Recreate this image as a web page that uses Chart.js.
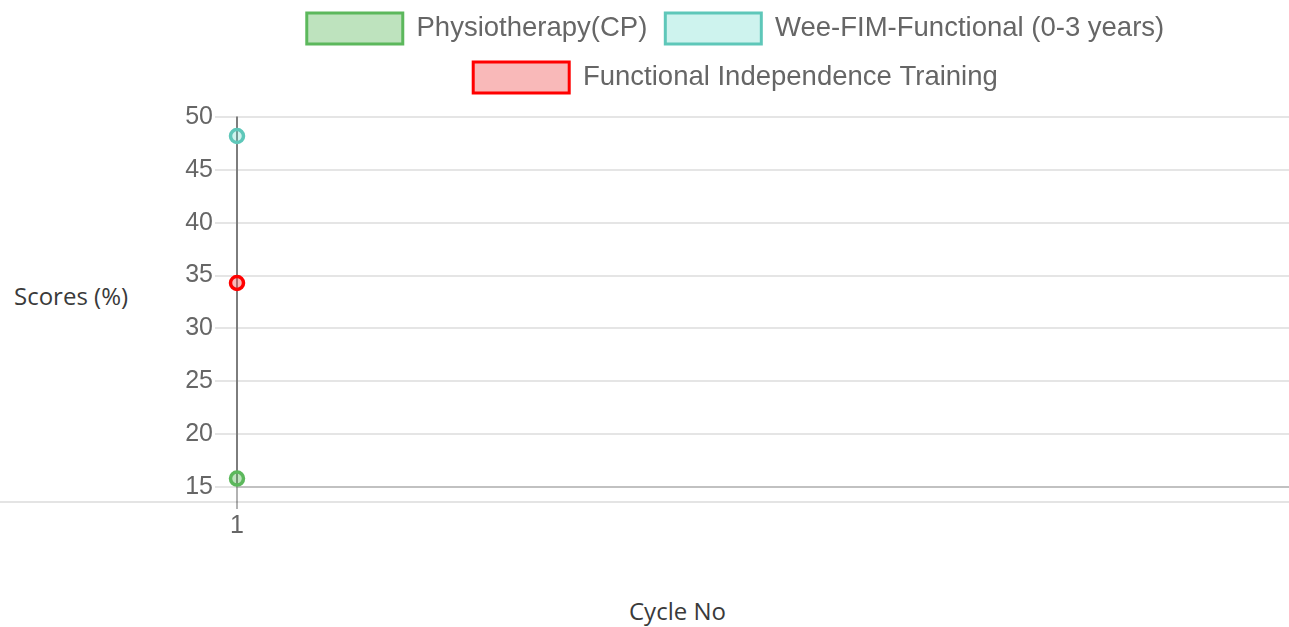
<!DOCTYPE html>
<html>
<head>
<meta charset="utf-8">
<script src="https://cdn.jsdelivr.net/npm/chart.js@4.4.0/dist/chart.umd.min.js"></script>
<style>
    html, body { margin: 0; padding: 0; background: #fff; }
    #wrap { position: relative; width: 1289px; height: 627px; overflow: hidden; }
    #baseLine { position: absolute; left: 0; top: 501px; width: 1289px; border-top: 2px solid #e4e4e4; }
    #chartBox { position: absolute; left: 172px; top: -5px; width: 1127px; height: 552px; }
    .axisTitle { position: absolute; font-family: "Open Sans", sans-serif; font-size: 24px; color: #3a3a3a; white-space: nowrap; line-height: 1; }
    #yTitle { left: 14px; top: 284px; }
    #xTitle { left: 629px; top: 599px; }
</style>
</head>
<body>
<div id="wrap">
    <div id="baseLine"></div>
    <div id="chartBox"><canvas id="cycleScoreChart"></canvas></div>
    <div class="axisTitle" id="yTitle">Scores (%)</div>
    <div class="axisTitle" id="xTitle">Cycle No</div>
</div>
<script>
const cycles = ["1"];
const physioScores = [15.8];
const weeFimScores = [48.2];
const fitScores = [34.3];

// leave a bit more room between the legend and the plot
const legendGap = {
    id: "legendGap",
    afterInit(chart) {
        const legend = chart.legend;
        const origFit = legend.fit;
        legend.fit = function () {
            origFit.call(this);
            this.height += 14;
        };
    },
};

const data = {
    labels: cycles,
    datasets: [
        {
            label: "Physiotherapy(CP)",
            data: physioScores,
            borderColor: "#5cb85c",
            backgroundColor: "rgba(92,184,92,0.4)",
            borderWidth: 3,
            pointRadius: 6.5,
            pointBorderWidth: 3.5,
        },
        {
            label: "Wee-FIM-Functional (0-3 years)",
            data: weeFimScores,
            borderColor: "#5ec7b9",
            backgroundColor: "rgba(94,215,200,0.3)",
            borderWidth: 3,
            pointRadius: 6.5,
            pointBorderWidth: 3.5,
        },
        {
            label: "Functional Independence Training",
            data: fitScores,
            borderColor: "#ff0000",
            backgroundColor: "rgba(240,80,80,0.4)",
            borderWidth: 3,
            pointRadius: 6.5,
            pointBorderWidth: 3.5,
        },
    ],
};

const config = {
    type: "line",
    data: data,
    plugins: [legendGap],
    options: {
        responsive: true,
        maintainAspectRatio: false,
        animation: false,
        plugins: {
            legend: {
                position: "top",
                display: true,
                labels: {
                    boxWidth: 96,
                    boxHeight: 31,
                    padding: 18,
                    color: "#666",
                    font: { family: "Liberation Sans, Arial, sans-serif", size: 27.5 },
                },
            },
            tooltip: { enabled: false },
        },
        scales: {
            x: {
                offset: false,
                grid: {
                    color: "rgba(0,0,0,0.3)",
                    lineWidth: 2,
                    tickLength: 22,
                },
                border: { color: "rgba(0,0,0,0.16)", width: 2 },
                ticks: {
                    color: "#666",
                    padding: 2,
                    font: { family: "Liberation Sans, Arial, sans-serif", size: 25 },
                },
                afterFit: (scale) => { scale.height = 60; },
            },
            y: {
                min: 15,
                max: 50,
                grid: {
                    color: "rgba(0,0,0,0.1)",
                    lineWidth: 2,
                    tickLength: 22,
                },
                border: { color: "rgba(0,0,0,0.3)", width: 2 },
                ticks: {
                    stepSize: 5,
                    color: "#666",
                    padding: 2,
                    font: { family: "Liberation Sans, Arial, sans-serif", size: 25 },
                },
                afterFit: (scale) => { scale.width = 65; },
            },
        },
    },
};

new Chart(document.getElementById("cycleScoreChart"), config);
</script>
</body>
</html>
